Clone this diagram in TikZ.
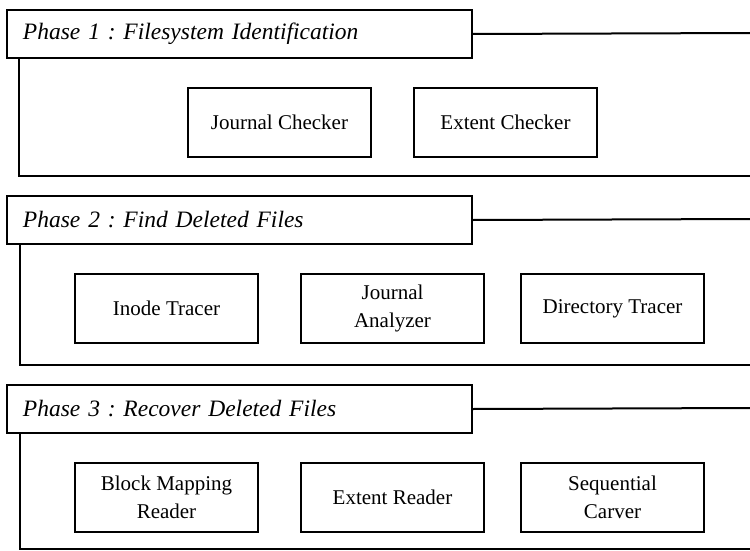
\documentclass[tikz,border=0pt]{standalone}
\usepackage{fontspec}
\setmainfont{Liberation Serif}
\frenchspacing
\begin{document}
\begin{tikzpicture}[x=1pt,y=-1pt,
  line width=2pt,
  phase/.style={draw, anchor=north west, minimum height=48pt, text width=433pt,
    inner xsep=16pt, inner ysep=0pt, align=left,
    font=\fontsize{23.5}{28}\selectfont\itshape},
  tool/.style={draw, anchor=north west, minimum width=183pt, minimum height=69pt,
    align=center, inner sep=0pt, font=\fontsize{21}{28.5}\selectfont},
  ]
\useasboundingbox (0,0) rectangle (750,551);

% Phase 1
\node[phase] (h1) at (6,9) {Phase 1 : Filesystem Identification};
\coordinate (p1r) at (750,33);
\coordinate (p1bl) at (19,176);
\coordinate (p1br) at (750,176);
\draw (h1.east) -- (p1r);
\draw (h1.south -| p1bl) -- (p1bl) -- (p1br);
\node[tool] (jc) at (187,87) {Journal Checker};
\node[tool] (ec) at (413,87) {Extent Checker};

% Phase 2
\node[phase] (h2) at (6,195) {Phase 2 : Find Deleted Files};
\coordinate (p2r) at (750,219);
\coordinate (p2bl) at (20,365);
\coordinate (p2br) at (750,365);
\draw (h2.east) -- (p2r);
\draw (h2.south -| p2bl) -- (p2bl) -- (p2br);
\node[tool] (it) at (74,273) {Inode Tracer};
\node[tool] (ja) at (300,273) {Journal\\Analyzer};
\node[tool] (dt) at (520,273) {Directory Tracer};

% Phase 3
\node[phase] (h3) at (6,384) {Phase 3 : Recover Deleted Files};
\coordinate (p3r) at (750,408);
\coordinate (p3bl) at (20,549);
\coordinate (p3br) at (750,549);
\draw (h3.east) -- (p3r);
\draw (h3.south -| p3bl) -- (p3bl) -- (p3br);
\node[tool] (bm) at (74,462) {Block Mapping\\Reader};
\node[tool] (er) at (300,462) {Extent Reader};
\node[tool] (sc) at (520,462) {Sequential\\Carver};
\end{tikzpicture}
\end{document}
